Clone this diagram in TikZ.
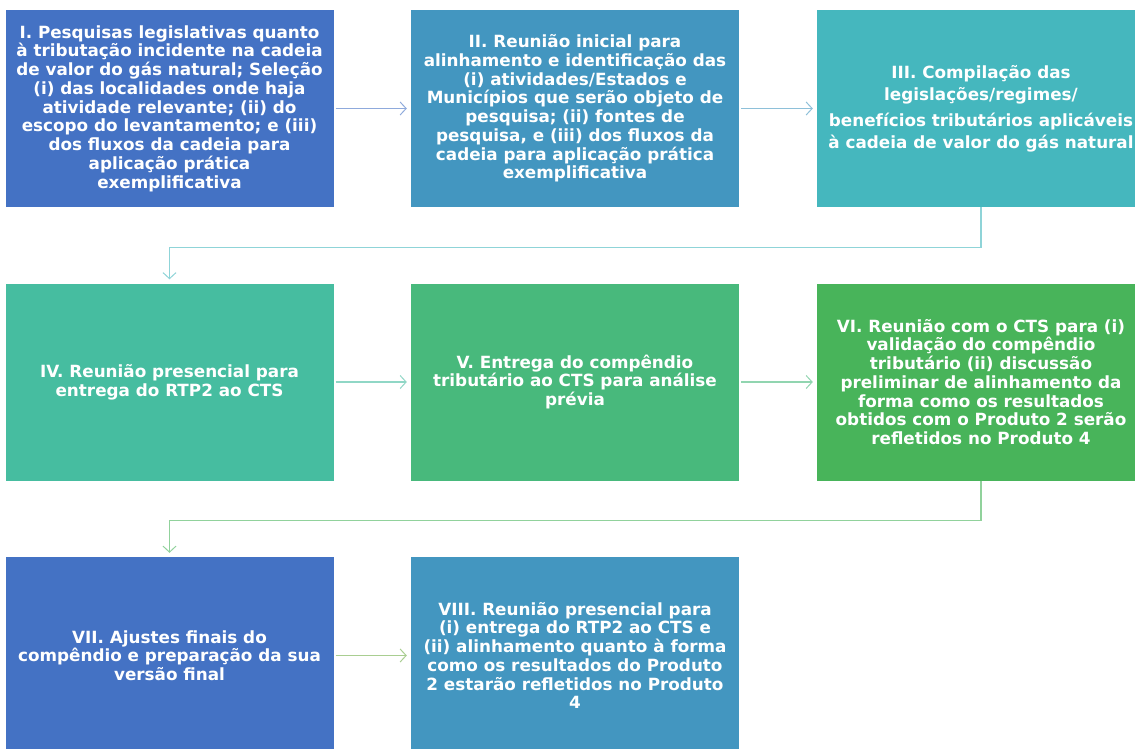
\documentclass[tikz,border=0pt]{standalone}
\usepackage{fontspec}
\setmainfont{DejaVu Sans}
\usetikzlibrary{arrows.meta}
\definecolor{cI}{HTML}{4472C4}
\definecolor{cII}{HTML}{4396C0}
\definecolor{cIII}{HTML}{45B7BE}
\definecolor{cIV}{HTML}{46BDA0}
\definecolor{cV}{HTML}{48B97C}
\definecolor{cVI}{HTML}{48B45A}
\definecolor{cG}{HTML}{70AD47}
\begin{document}
\begin{tikzpicture}[x=1pt,y=-1pt,
  box/.style={minimum width=328pt, minimum height=197pt, inner sep=0pt, align=center, text=white,
    font=\bfseries\fontsize{16.8}{18.75}\selectfont},
  conn/.style={line width=1.2pt, -{Straight Barb[length=6pt,width=13pt,line width=1pt]}}]
\useasboundingbox (0,0) rectangle (1135,749);
\fill[white] (0,0) rectangle (1135,749);

\node[box, fill=cI] (I) at (169.5,108.5) {I. Pesquisas legislativas quanto\\à tributação incidente na cadeia\\de valor do gás natural; Seleção\\(i) das localidades onde haja\\atividade relevante; (ii) do\\escopo do levantamento; e (iii)\\dos fluxos da cadeia para\\aplicação prática\\exemplificativa};
\node[box, fill=cII] (II) at (575,108.5) {II. Reunião inicial para\\alinhamento e identificação das\\(i) atividades/Estados e\\Municípios que serão objeto de\\pesquisa; (ii) fontes de\\pesquisa, e (iii) dos fluxos da\\cadeia para aplicação prática\\exemplificativa};
\node[box, fill=cIII, font=\bfseries\fontsize{16.8}{22}\selectfont] (III) at (981,108.5) {III. Compilação das\\legislações/regimes/\\[4pt]benefícios tributários aplicáveis\\à cadeia de valor do gás natural};

\node[box, fill=cIV] (IV) at (169.5,382) {IV. Reunião presencial para\\entrega do RTP2 ao CTS};
\node[box, fill=cV] (V) at (575,382) {V. Entrega do compêndio\\tributário ao CTS para análise\\prévia};
\node[box, fill=cVI] (VI) at (981,382) {VI. Reunião com o CTS para (i)\\validação do compêndio\\tributário (ii) discussão\\preliminar de alinhamento da\\forma como os resultados\\obtidos com o Produto 2 serão\\refletidos no Produto 4};

\node[box, fill=cI] (VII) at (169.5,655.5) {VII. Ajustes finais do\\compêndio e preparação da sua\\versão final};
\node[box, fill=cII] (VIII) at (575,655.5) {VIII. Reunião presencial para\\(i) entrega do RTP2 ao CTS e\\(ii) alinhamento quanto à forma\\como os resultados do Produto\\2 estarão refletidos no Produto\\4};

\draw[conn, draw=cI!60!white] ([xshift=2pt]I.east) -- ([xshift=-4pt]II.west);
\draw[conn, draw=cII!60!white] ([xshift=2pt]II.east) -- ([xshift=-4pt]III.west);
\draw[conn, draw=cIII!60!white] (III.south) -- ++(0,40) -| ([yshift=4pt]IV.north);
\draw[conn, draw=cIV!60!white] ([xshift=2pt]IV.east) -- ([xshift=-4pt]V.west);
\draw[conn, draw=cV!60!white] ([xshift=2pt]V.east) -- ([xshift=-4pt]VI.west);
\draw[conn, draw=cVI!60!white] (VI.south) -- ++(0,40) -| ([yshift=4pt]VII.north);
\draw[conn, draw=cG!60!white] ([xshift=2pt]VII.east) -- ([xshift=-4pt]VIII.west);
\end{tikzpicture}
\end{document}
